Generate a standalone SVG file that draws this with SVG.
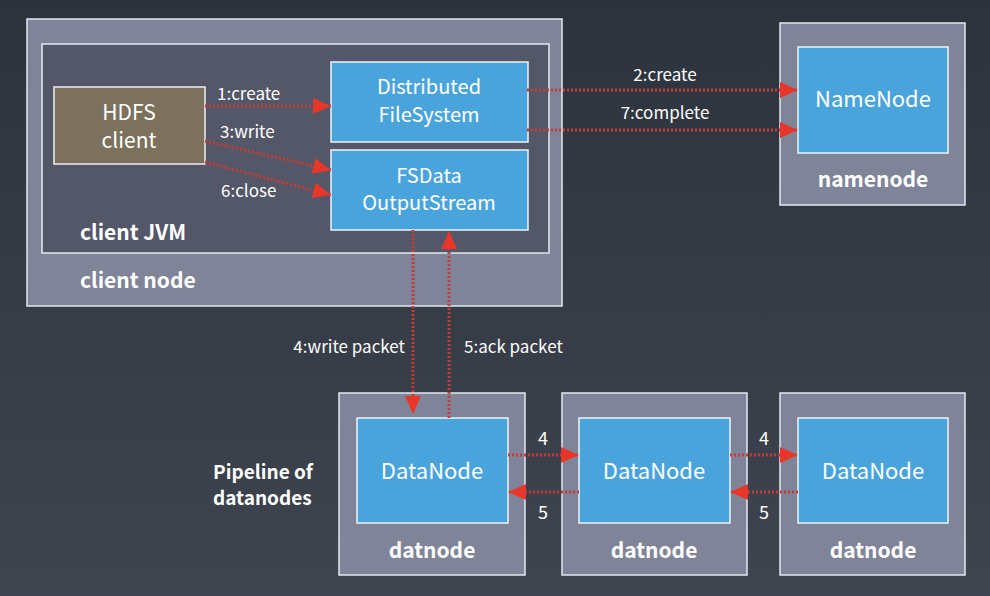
<svg xmlns="http://www.w3.org/2000/svg" width="990" height="596" viewBox="0 0 990 596">
<defs>
<linearGradient id="bg" x1="0" y1="0" x2="0" y2="1">
<stop offset="0" stop-color="#2d333c"/>
<stop offset="1" stop-color="#3f4550"/>
</linearGradient>
<marker id="ah" viewBox="0 0 18 16" refX="18" refY="8" markerWidth="18" markerHeight="16" markerUnits="userSpaceOnUse" orient="auto">
<path d="M0,0 L18,8 L0,16 Z" fill="#e8362b"/>
</marker>
<style>
.outer{fill:#7f8499;stroke:#e4e8f2;stroke-width:1.5}
.jvm{fill:#535768;stroke:#e4e8f2;stroke-width:1.5}
.blue{fill:#4aa4dc;stroke:#eef3fa;stroke-width:1.5}
.hdfs{fill:#7b715d;stroke:#eef0f2;stroke-width:1.5}
text{font-family:"Noto Sans CJK SC","Noto Sans",sans-serif;fill:#ffffff}
.t{font-size:20px;text-anchor:middle}
.tb{font-size:22px;text-anchor:middle}
.lb{font-size:21px;font-weight:bold}
.e{font-size:17px}
.c{stroke:#c73b34;stroke-width:3;stroke-dasharray:2 2;fill:none;marker-end:url(#ah)}
</style>
</defs>
<rect width="990" height="596" fill="url(#bg)"/>

<g id="client-node">
<rect class="outer" x="27" y="19" width="535" height="287"/>
<text class="lb" x="80" y="288">client node</text>
</g>
<g id="client-jvm">
<rect class="jvm" x="42" y="44" width="507" height="209"/>
<text class="lb" x="80" y="240">client JVM</text>
</g>
<g id="hdfs-client">
<rect class="hdfs" x="54" y="87" width="151" height="77"/>
<text class="t" x="129" y="120" style="font-size:21px">HDFS</text>
<text class="t" x="129" y="148" style="font-size:21px">client</text>
</g>
<g id="distributed-filesystem">
<rect class="blue" x="331" y="62" width="197" height="80"/>
<text class="t" x="429" y="94">Distributed</text>
<text class="t" x="429" y="122">FileSystem</text>
</g>
<g id="fsdata-outputstream">
<rect class="blue" x="331" y="150" width="197" height="80"/>
<text class="t" x="429" y="183">FSData</text>
<text class="t" x="429" y="210">OutputStream</text>
</g>

<g id="namenode">
<rect class="outer" x="780" y="23" width="185" height="182"/>
<rect class="blue" x="798" y="47" width="150" height="106"/>
<text class="tb" x="873" y="107">NameNode</text>
<text class="lb" x="873" y="187" text-anchor="middle">namenode</text>
</g>

<g id="datanode-1">
<rect class="outer" x="339" y="393" width="186" height="182"/>
<rect class="blue" x="357" y="418" width="151" height="105"/>
<text class="tb" x="432" y="479">DataNode</text>
<text class="lb" x="432" y="558" text-anchor="middle">datnode</text>
</g>
<g id="datanode-2">
<rect class="outer" x="562" y="393" width="185" height="182"/>
<rect class="blue" x="579" y="418" width="151" height="105"/>
<text class="tb" x="654" y="479">DataNode</text>
<text class="lb" x="654" y="558" text-anchor="middle">datnode</text>
</g>
<g id="datanode-3">
<rect class="outer" x="780" y="393" width="185" height="182"/>
<rect class="blue" x="798" y="418" width="150" height="105"/>
<text class="tb" x="873" y="479">DataNode</text>
<text class="lb" x="873" y="558" text-anchor="middle">datnode</text>
</g>

<g id="pipeline-label">
<text class="lb" x="213" y="479" style="font-size:19px">Pipeline of</text>
<text class="lb" x="213" y="505" style="font-size:19px">datanodes</text>
</g>

<g id="connectors">
<line class="c" x1="205" y1="106" x2="331" y2="106"/>
<line class="c" x1="205" y1="141" x2="331" y2="170"/>
<line class="c" x1="205" y1="162" x2="331" y2="195"/>
<line class="c" x1="527" y1="90" x2="798" y2="90"/>
<line class="c" x1="527" y1="130" x2="798" y2="130"/>
<line class="c" x1="413" y1="230" x2="413" y2="414"/>
<line class="c" x1="449" y1="418" x2="449" y2="231"/>
<line class="c" x1="508" y1="455" x2="579" y2="455"/>
<line class="c" x1="579" y1="492" x2="508" y2="492"/>
<line class="c" x1="730" y1="455" x2="798" y2="455"/>
<line class="c" x1="798" y1="492" x2="730" y2="492"/>
<text class="e" x="217" y="100">1:create</text>
<text class="e" x="220" y="138">3:write</text>
<text class="e" x="221" y="197">6:close</text>
<text class="e" x="665" y="81" text-anchor="middle">2:create</text>
<text class="e" x="665" y="119" text-anchor="middle">7:complete</text>
<text class="e" x="405" y="353" text-anchor="end">4:write packet</text>
<text class="e" x="464" y="353">5:ack packet</text>
<text class="e" x="543" y="445" text-anchor="middle" style="font-size:18px">4</text>
<text class="e" x="543" y="519" text-anchor="middle" style="font-size:18px">5</text>
<text class="e" x="764" y="445" text-anchor="middle" style="font-size:18px">4</text>
<text class="e" x="764" y="519" text-anchor="middle" style="font-size:18px">5</text>
</g>
</svg>
